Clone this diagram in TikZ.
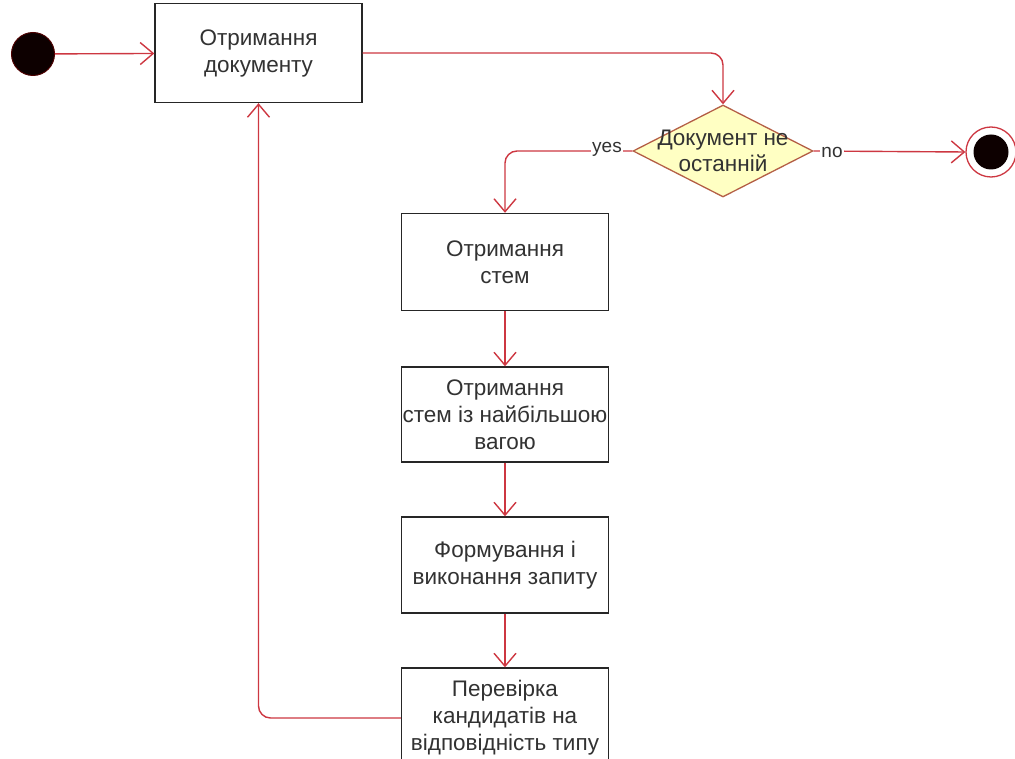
\documentclass[tikz,border=0pt]{standalone}
\usepackage{fontspec}
\setmainfont{Liberation Sans}
\usetikzlibrary{shapes.geometric,arrows.meta}
\definecolor{flowred}{RGB}{205,55,65}
\definecolor{decfill}{RGB}{255,255,195}
\definecolor{decline}{RGB}{180,95,70}
\definecolor{txtgrey}{RGB}{50,50,50}

\begin{document}
\begin{tikzpicture}[x=1pt,y=-1pt,
  act/.style={draw=black!85,line width=1.4pt,fill=white,minimum width=207pt,
    inner sep=0pt,align=center,text=txtgrey,font=\fontsize{22.5}{27}\selectfont},
  flow/.style={draw=flowred,line width=1.4pt,
    -{Straight Barb[length=13pt,width=22pt]},rounded corners=12pt},
  lbl/.style={fill=white,inner sep=1pt,text=txtgrey,font=\fontsize{19}{21}\selectfont}]
  \useasboundingbox (0,0) rectangle (1015,759);

  %% Start and end
  \node[circle,draw=black!70!red,fill=black!95!red,line width=1pt,minimum size=43pt] (START) at (33,54) {};
  \node[circle,draw=flowred,fill=white,line width=1.3pt,minimum size=50pt] (END) at (991,152) {};
  \node[circle,fill=black!95!red,minimum size=35pt] (ENDDOT) at (END.center) {};

  %% Activities
  \node[act,minimum height=99pt] (GETDOC) at (258.5,53) {Отримання\\документу};
  \node[act,minimum height=97pt] (GETSTEM) at (505,262) {Отримання\\стем};
  \node[act,minimum height=95pt] (TOPSTEM) at (505,414.5) {Отримання\\стем із найбільшою\\вагою};
  \node[act,minimum height=96pt] (QUERY) at (505,565) {Формування і\\виконання запиту};
  \node[act,minimum height=100pt] (CHECK) at (505,718) {Перевірка\\кандидатів на\\відповідність типу};

  %% Decision
  \node[diamond,draw=decline,fill=decfill,line width=1.3pt,inner sep=0pt,
    minimum width=180pt,minimum height=92pt] (LAST) at (723,151) {};
  \node[align=center,text=txtgrey,font=\fontsize{22.5}{26}\selectfont] (LASTTXT) at (LAST.center)
    {Документ не\\останній};

  %% Connectors
  \draw[flow] (START) -- (GETDOC);
  \draw[flow] (GETDOC.east) -| (LAST.north);
  \draw[flow] (LAST.west) -| (GETSTEM.north);
  \draw[flow] (LAST.east) -- (END.west);
  \draw[flow] (GETSTEM) -- (TOPSTEM);
  \draw[flow] (TOPSTEM) -- (QUERY);
  \draw[flow] (QUERY) -- (CHECK);
  \draw[flow] (CHECK.west) -| (GETDOC.south);

  %% Guard labels
  \node[lbl] (YES) at (607,149) {yes};
  \node[lbl] (NO) at (832,152) {no};
\end{tikzpicture}
\end{document}
